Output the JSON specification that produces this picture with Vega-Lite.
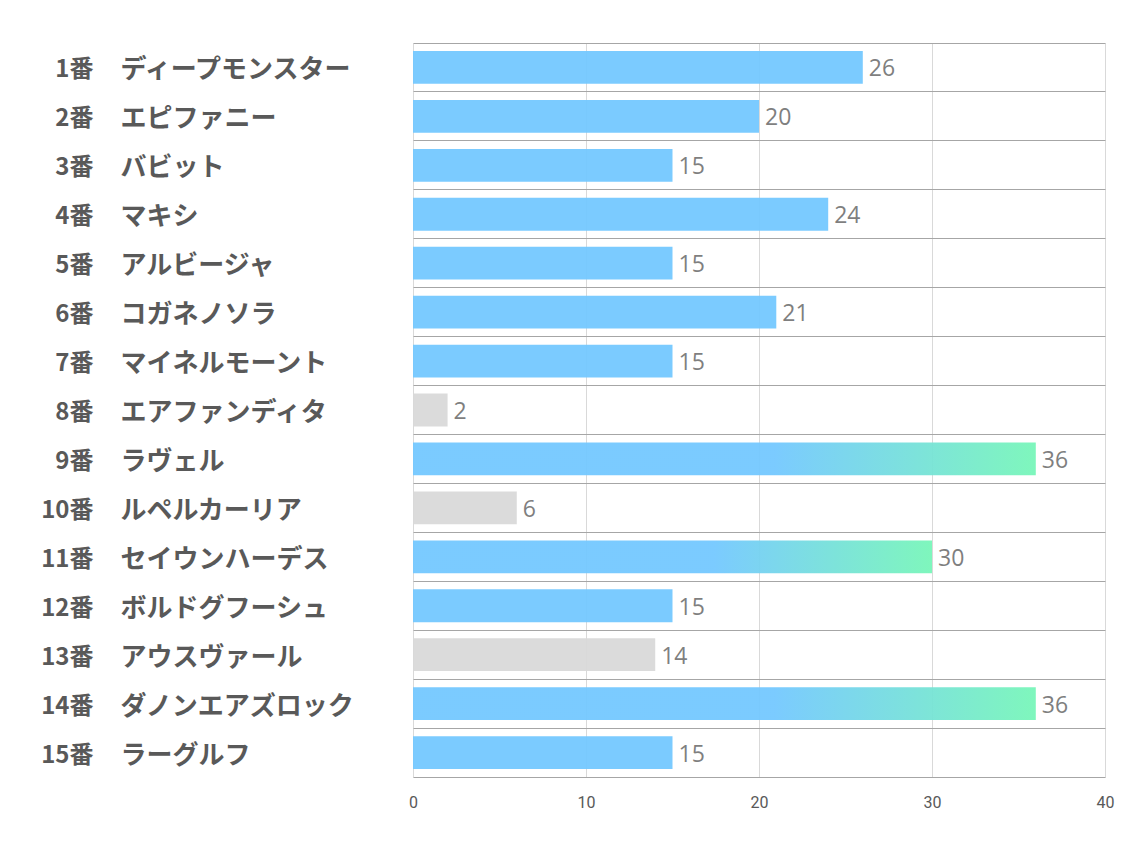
{
  "$schema": "https://vega.github.io/schema/vega-lite/v6.json",
  "autosize": {"type": "none"},
  "width": 692,
  "height": 734,
  "padding": {"left": 413, "top": 43, "right": 29, "bottom": 73},
  "background": "white",
  "config": {"view": {"stroke": null}},
  "data": {
    "values": [
      {"label": "1番|ディープモンスター", "value": 26, "kind": "blue"},
      {"label": "2番|エピファニー", "value": 20, "kind": "blue"},
      {"label": "3番|バビット", "value": 15, "kind": "blue"},
      {"label": "4番|マキシ", "value": 24, "kind": "blue"},
      {"label": "5番|アルビージャ", "value": 15, "kind": "blue"},
      {"label": "6番|コガネノソラ", "value": 21, "kind": "blue"},
      {"label": "7番|マイネルモーント", "value": 15, "kind": "blue"},
      {"label": "8番|エアファンディタ", "value": 2, "kind": "gray"},
      {"label": "9番|ラヴェル", "value": 36, "kind": "grad"},
      {"label": "10番|ルペルカーリア", "value": 6, "kind": "gray"},
      {"label": "11番|セイウンハーデス", "value": 30, "kind": "grad"},
      {"label": "12番|ボルドグフーシュ", "value": 15, "kind": "blue"},
      {"label": "13番|アウスヴァール", "value": 14, "kind": "gray"},
      {"label": "14番|ダノンエアズロック", "value": 36, "kind": "grad"},
      {"label": "15番|ラーグルフ", "value": 15, "kind": "blue"}
    ]
  },
  "encoding": {
    "x": {
      "field": "value",
      "type": "quantitative",
      "scale": {"domain": [0, 40], "nice": false},
      "axis": {
        "title": null,
        "values": [0, 10, 20, 30, 40],
        "grid": true,
        "gridColor": "#D9D9D9",
        "gridWidth": 1,
        "domain": true,
        "domainColor": "#A6A6A6",
        "domainWidth": 1,
        "ticks": false,
        "tickSize": 0,
        "labelFlush": false,
        "labelPadding": 17,
        "labelFont": "Roboto",
        "labelFontSize": 16,
        "labelColor": "#595959"
      }
    }
  },
  "layer": [
    {
      "transform": [{"filter": "datum.kind !== 'grad'"}],
      "mark": {"type": "bar", "height": {"band": 0.67}, "opacity": 0.95},
      "encoding": {
        "y": {
          "field": "label",
          "type": "nominal",
          "scale": {
            "paddingInner": 0,
            "paddingOuter": 0,
            "domain": ["1番|ディープモンスター", "2番|エピファニー", "3番|バビット", "4番|マキシ", "5番|アルビージャ", "6番|コガネノソラ", "7番|マイネルモーント", "8番|エアファンディタ", "9番|ラヴェル", "10番|ルペルカーリア", "11番|セイウンハーデス", "12番|ボルドグフーシュ", "13番|アウスヴァール", "14番|ダノンエアズロック", "15番|ラーグルフ"]
          },
          "axis": {
            "title": null,
            "orient": "left",
            "labelExpr": "split(datum.label, '|')[1]",
            "labelAlign": "left",
            "labelPadding": 293,
            "labelOffset": 3,
            "labelFont": "Noto Sans CJK JP",
            "labelFontWeight": "bold",
            "labelFontSize": 26,
            "labelColor": "#595959",
            "labelLimit": 0,
            "ticks": false,
            "tickSize": 0,
            "domain": false,
            "grid": true,
            "bandPosition": 0,
            "gridColor": "#A6A6A6",
            "gridWidth": 1
          }
        },
        "color": {
          "field": "kind",
          "type": "nominal",
          "scale": {"domain": ["blue", "gray"], "range": ["#74C8FF", "#D9D9D9"]},
          "legend": null
        }
      }
    },
    {
      "transform": [{"filter": "datum.kind === 'grad'"}],
      "mark": {
        "type": "bar",
        "height": {"band": 0.67},
        "opacity": 0.95,
        "color": {
          "gradient": "linear",
          "x1": 0, "y1": 0, "x2": 1, "y2": 0,
          "stops": [
            {"offset": 0, "color": "#74C8FF"},
            {"offset": 0.58, "color": "#74C8FF"},
            {"offset": 1, "color": "#78F6B9"}
          ]
        }
      },
      "encoding": {
        "y": {"field": "label", "type": "nominal", "axis": null}
      }
    },
    {
      "mark": {
        "type": "text",
        "align": "left",
        "baseline": "middle",
        "dx": 6,
        "dy": 2,
        "font": "Open Sans",
        "fontSize": 23,
        "color": "#7F7F7F"
      },
      "encoding": {
        "y": {
          "field": "label",
          "type": "nominal",
          "axis": {
            "title": null,
            "orient": "left",
            "labelExpr": "split(datum.label, '|')[0]",
            "labelAlign": "right",
            "labelPadding": 320,
            "labelOffset": 3,
            "labelFont": "Noto Sans CJK JP",
            "labelFontWeight": "bold",
            "labelFontSize": 24,
            "labelColor": "#595959",
            "labelLimit": 0,
            "ticks": false,
            "tickSize": 0,
            "domain": false,
            "grid": false
          }
        },
        "text": {"field": "value", "type": "quantitative"}
      }
    }
  ],
  "resolve": {"axis": {"y": "independent"}}
}
